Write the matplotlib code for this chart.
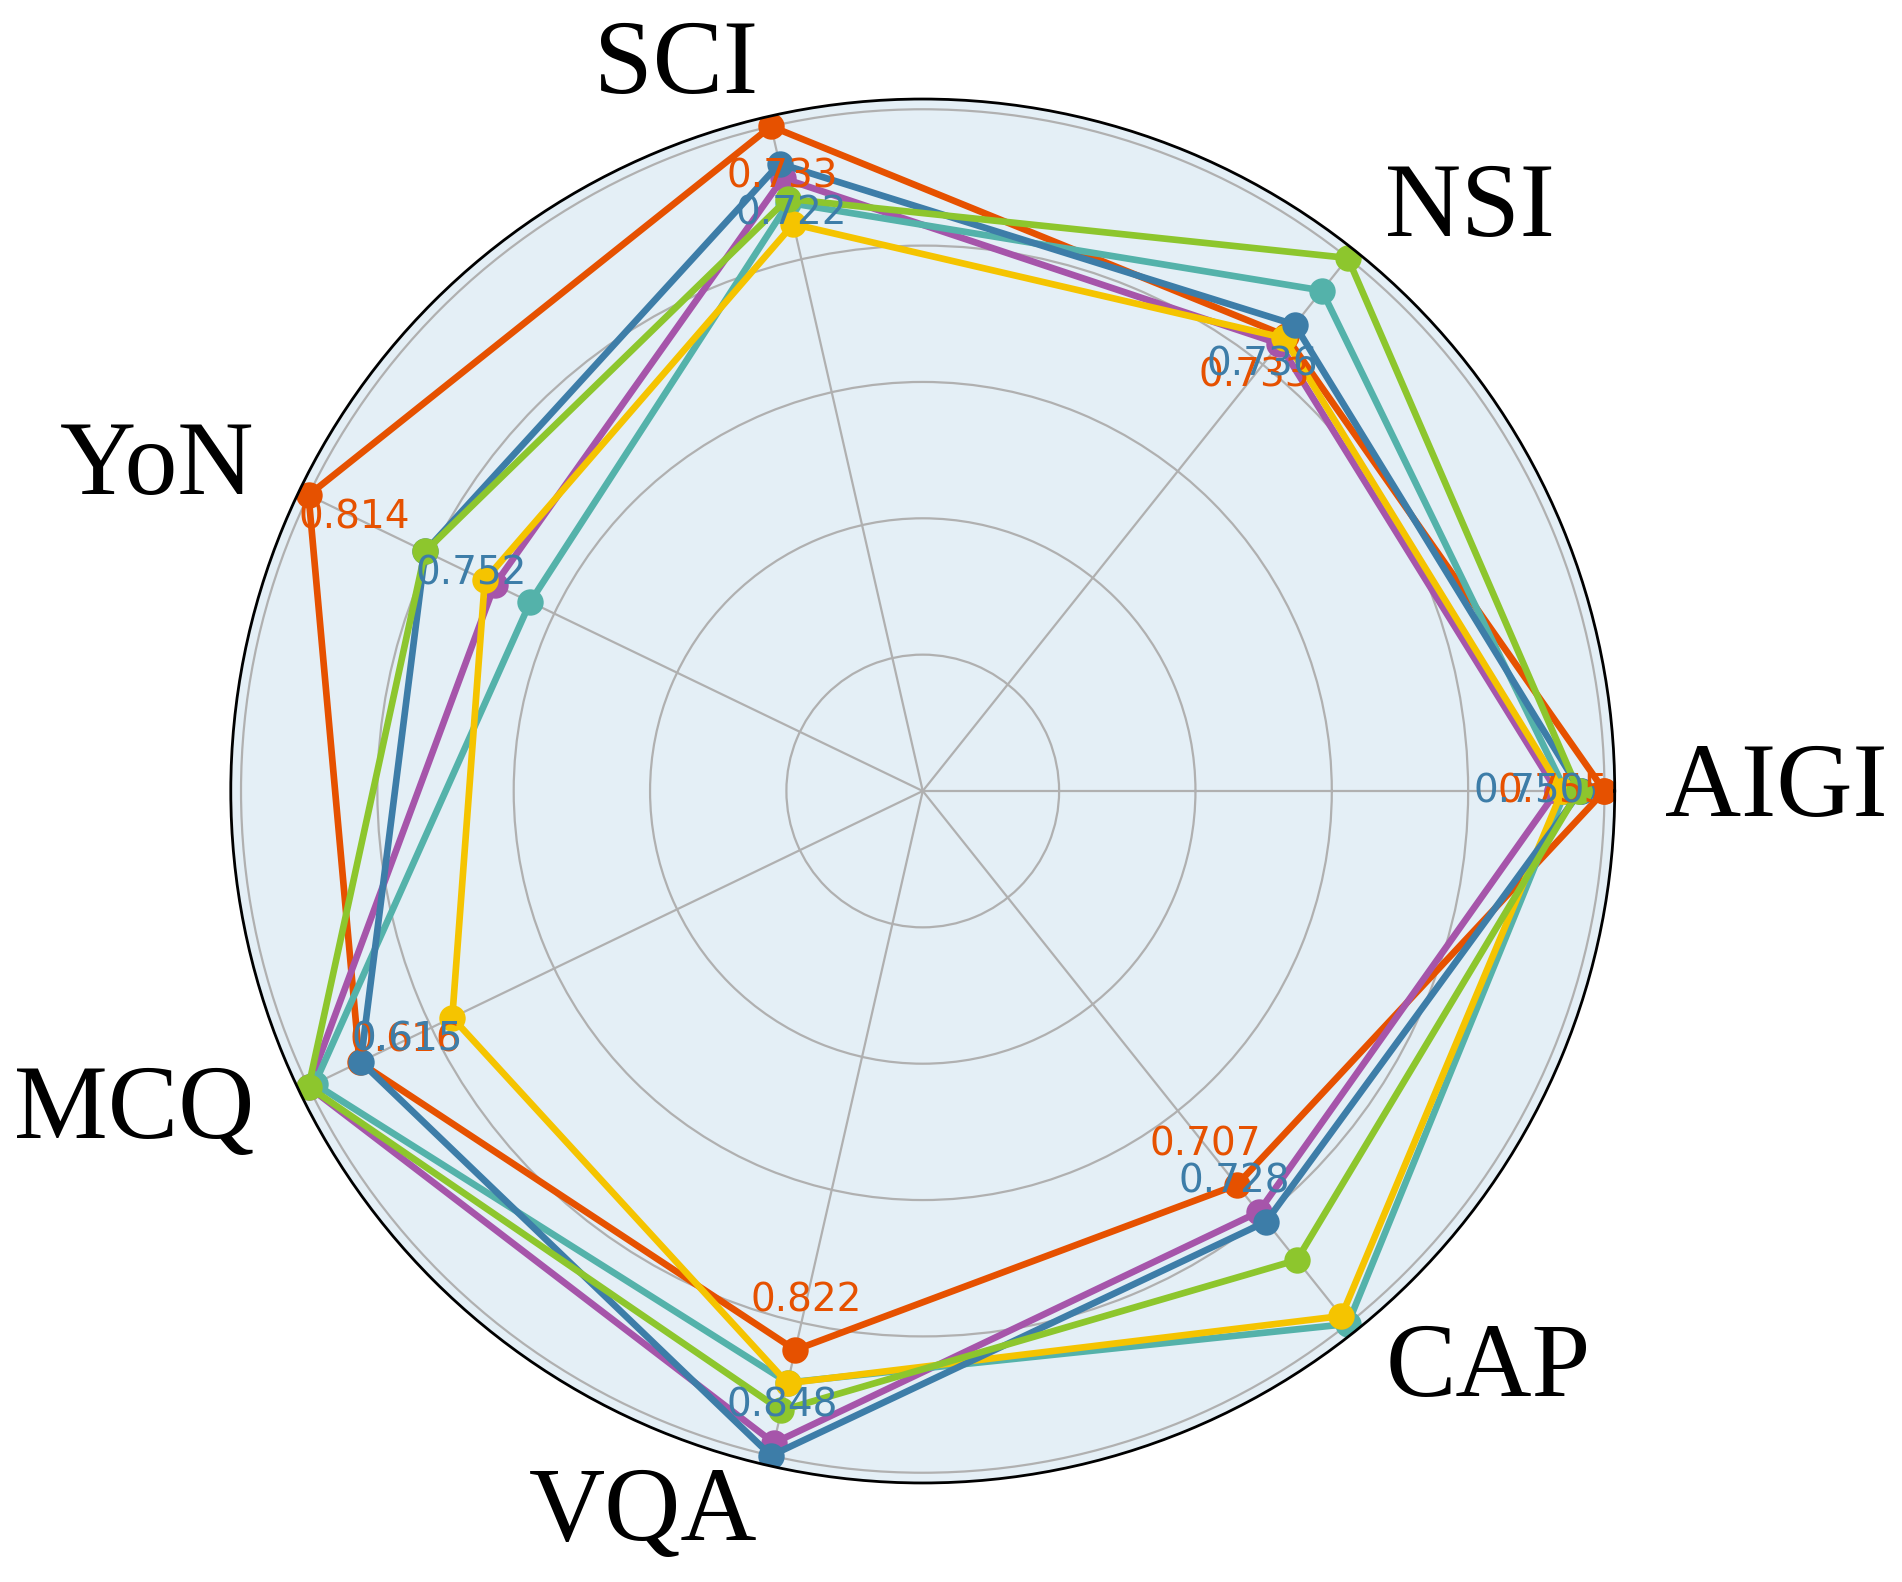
import numpy as np
import matplotlib.pyplot as plt

# axes of the radar, counter-clockwise from the right
categories = ['AIGI', 'NSI', 'SCI', 'YoN', 'MCQ', 'VQA', 'CAP']

# normalised scores per axis
orange = [1.000, 0.854, 1.000, 1.000, 0.917, 0.841, 0.739]
blue   = [0.965, 0.875, 0.944, 0.810, 0.915, 1.000, 0.808]
green  = [0.962, 1.000, 0.891, 0.810, 1.000, 0.932, 0.880]
teal   = [0.943, 0.939, 0.885, 0.639, 0.990, 0.890, 1.000]
purple = [0.930, 0.839, 0.922, 0.697, 1.000, 0.981, 0.790]
yellow = [0.938, 0.850, 0.853, 0.713, 0.766, 0.891, 0.985]

# raw scores printed next to the two highlighted series
orange_labels = [0.755, 0.733, 0.733, 0.814, 0.616, 0.822, 0.707]
blue_labels   = [0.750, 0.736, 0.722, 0.752, 0.615, 0.848, 0.728]

colors = {
    'orange': '#e65100',
    'purple': '#a655aa',
    'teal': '#54b2aa',
    'yellow': '#f5c400',
    'blue': '#3d7da8',
    'green': '#8dc62d',
}
series = [('orange', orange), ('purple', purple), ('teal', teal),
          ('yellow', yellow), ('blue', blue), ('green', green)]

n = len(categories)
angles = np.linspace(0, 2 * np.pi, n, endpoint=False)
closed = np.concatenate([angles, angles[:1]])

fig = plt.figure(figsize=(9.51, 7.91), dpi=200)
ax = fig.add_axes([0.1213, 0.0626, 0.7277, 0.8748], polar=True)
ax.set_facecolor('#e4eff6')

for name, vals in series:
    v = np.concatenate([vals, vals[:1]])
    ax.plot(closed, v, color=colors[name], lw=2.4, marker='o', markersize=8.5)

# value annotations, a bit inside each point
off = 0.075
for a, r, t in zip(angles, orange, orange_labels):
    ax.text(a, r - off, f'{t:.3f}', color=colors['orange'], fontsize=14,
            ha='center', va='center')
for a, r, t in zip(angles, blue, blue_labels):
    ax.text(a, r - off, f'{t:.3f}', color=colors['blue'], fontsize=14,
            ha='center', va='center')

ax.set_ylim(0, 1.015)
ax.set_yticks([0.2, 0.4, 0.6, 0.8, 1.0])
ax.set_yticklabels([])
ax.spines['polar'].set_linewidth(1.0)
ax.set_xticks(angles)
ax.set_xticklabels(categories, fontsize=38, family='Liberation Serif')
ax.tick_params(axis='x', pad=7.5)
for lab, a in zip(ax.get_xticklabels(), angles):
    lab.set_horizontalalignment('left' if np.cos(a) > 0 else 'right')

plt.savefig('out.png', dpi=200)
